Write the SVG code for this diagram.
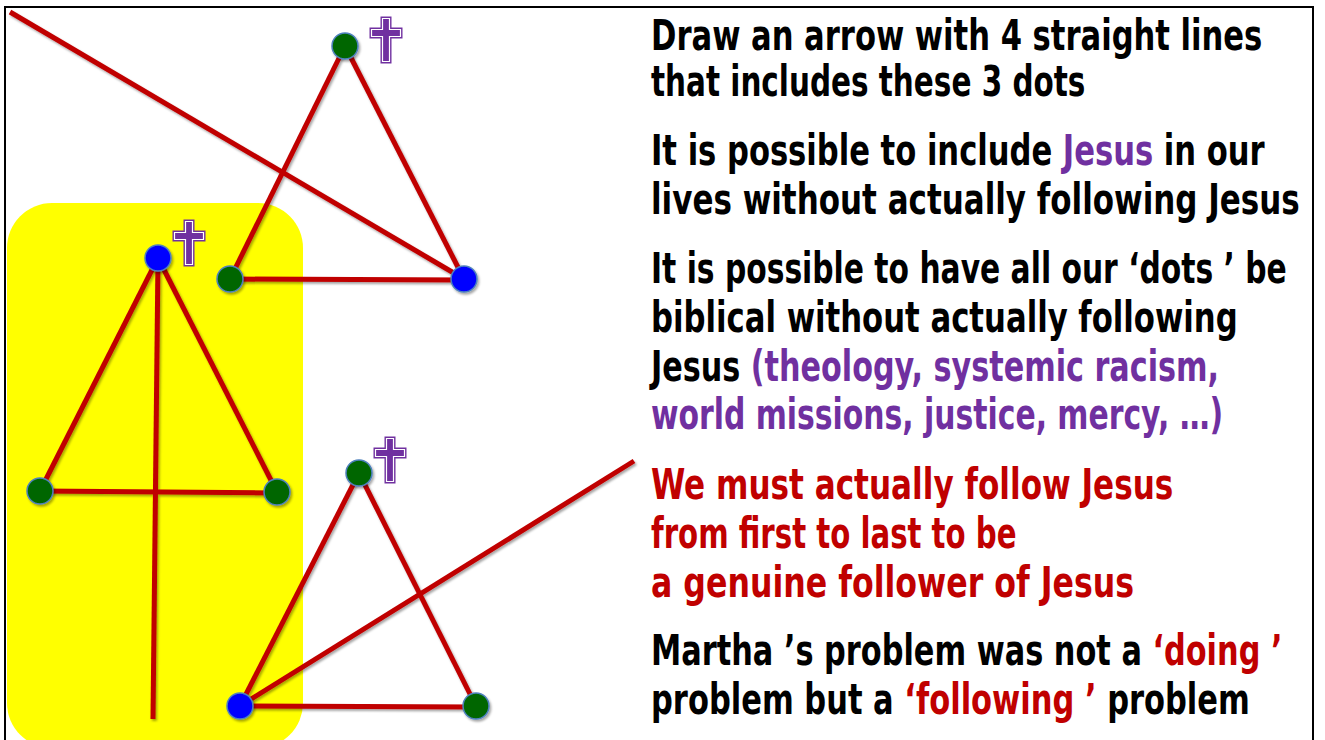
<svg xmlns="http://www.w3.org/2000/svg" width="1325" height="740" viewBox="0 0 1325 740">
<style>
.ln{stroke:#C00000;stroke-width:5;stroke-linecap:butt;fill:none}
.g{fill:#006600;stroke:#4F81BD;stroke-width:1.5}
.b{fill:#0000FF;stroke:#4F81BD;stroke-width:1.5}
.t{font-family:"DejaVu Sans Condensed","DejaVu Sans",sans-serif;font-weight:bold;font-size:42px;fill:#000}
.p{fill:#7030A0}
.r{fill:#C00000}
</style>
<defs>
<filter id="sh" x="-20%" y="-20%" width="140%" height="140%">
<feDropShadow dx="1.5" dy="2" stdDeviation="1.2" flood-color="#000" flood-opacity="0.35"/>
</filter>
<path id="crossShape" d="M-3.5,1.5 H3.5 V12.5 H14.5 V19.5 H3.5 V44.5 H-3.5 V19.5 H-14.5 V12.5 H-3.5 Z"/>
<g id="cross">
<use href="#crossShape" fill="#7030A0" stroke="#7030A0" stroke-width="4"/>
<use href="#crossShape" fill="none" stroke="#ffffff" stroke-width="1.2"/>
</g>
</defs>
<rect x="5" y="7" width="1308" height="745" fill="#fff" stroke="#000" stroke-width="2"/>
<rect id="highlight" x="7" y="203" width="296" height="545" rx="45" ry="45" fill="#FFFF00"/>
<g id="connectors" filter="url(#sh)">
<line class="ln" x1="10" y1="12" x2="464" y2="279"/>
<line class="ln" x1="345" y1="46" x2="230" y2="279"/>
<line class="ln" x1="345" y1="46" x2="464" y2="279"/>
<line class="ln" x1="230" y1="279" x2="464" y2="280"/>
<line class="ln" x1="158" y1="258" x2="40" y2="491"/>
<line class="ln" x1="158" y1="258" x2="277" y2="492"/>
<line class="ln" x1="40" y1="491" x2="277" y2="493"/>
<line class="ln" x1="158" y1="258" x2="153" y2="719"/>
<line class="ln" x1="359" y1="473" x2="240" y2="706"/>
<line class="ln" x1="359" y1="473" x2="476" y2="706"/>
<line class="ln" x1="240" y1="706" x2="476" y2="707"/>
<line class="ln" x1="240" y1="706" x2="634" y2="461"/>
</g>
<g id="dots" filter="url(#sh)">
<g id="dot-top-apex"><circle class="g" cx="345" cy="46" r="13"/></g>
<g id="dot-top-left"><circle class="g" cx="230" cy="279" r="13"/></g>
<g id="dot-top-right"><circle class="b" cx="464" cy="279" r="13"/></g>
<g id="dot-left-apex"><circle class="b" cx="158" cy="258" r="13"/></g>
<g id="dot-left-left"><circle class="g" cx="40" cy="491" r="13"/></g>
<g id="dot-left-right"><circle class="g" cx="277" cy="492" r="13"/></g>
<g id="dot-bottom-apex"><circle class="g" cx="359" cy="473" r="13"/></g>
<g id="dot-bottom-left"><circle class="b" cx="240" cy="706" r="13"/></g>
<g id="dot-bottom-right"><circle class="g" cx="476" cy="706" r="13"/></g>
</g>
<g id="cross-top"><use href="#cross" x="386" y="17"/></g>
<g id="cross-left"><use href="#cross" x="189" y="220"/></g>
<g id="cross-bottom"><use href="#cross" x="390" y="437"/></g>
<g id="text">
<text class="t" transform="translate(651 50) scale(0.81 1)">Draw an arrow with 4 straight lines</text>
<text class="t" transform="translate(651 96) scale(0.78 1)">that includes these 3 dots</text>
<text class="t" transform="translate(651 165) scale(0.81 1)">It is possible to include <tspan class="p">Jesus</tspan> in our</text>
<text class="t" transform="translate(651 214) scale(0.82 1)">lives without actually following Jesus</text>
<text class="t" transform="translate(651 283) scale(0.788 1)">It is possible to have all our ‘dots ’ be</text>
<text class="t" transform="translate(651 332) scale(0.813 1)">biblical without actually following</text>
<text class="t" transform="translate(651 381) scale(0.80 1)">Jesus <tspan class="p">(theology, systemic racism,</tspan></text>
<text class="t p" transform="translate(651 429) scale(0.79 1)">world missions, justice, mercy, …)</text>
<text class="t r" transform="translate(651 499) scale(0.823 1)">We must actually follow Jesus</text>
<text class="t r" transform="translate(651 548) scale(0.773 1)">from first to last to be</text>
<text class="t r" transform="translate(651 597) scale(0.837 1)">a genuine follower of Jesus</text>
<text class="t" transform="translate(651 665) scale(0.804 1)">Martha ’s problem was not a <tspan class="r">‘doing ’</tspan></text>
<text class="t" transform="translate(651 714) scale(0.808 1)">problem but a <tspan class="r">‘following ’</tspan> problem</text>
</g>
</svg>
